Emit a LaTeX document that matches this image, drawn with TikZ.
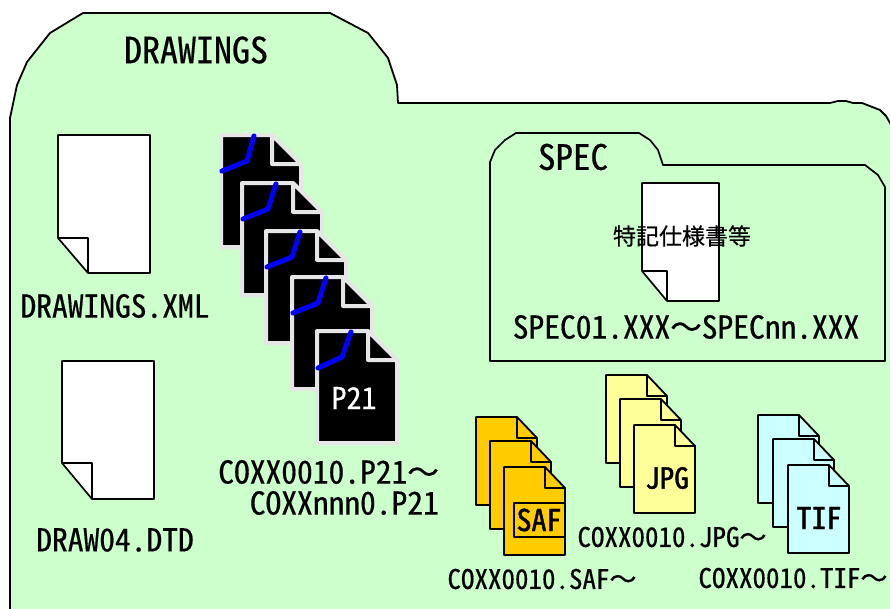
\documentclass[tikz,border=0pt]{standalone}
\usepackage{fontspec}
\setmainfont{Noto Sans CJK JP}[RawFeature=+hwid, FakeBold=0.5]
\newfontfamily\widefont{Noto Sans CJK JP}[FakeBold=0.5]
\newfontfamily\tagfont{Noto Sans CJK JP}[RawFeature=+hwid, FakeBold=1.4]
\newcommand{\wave}{{\widefont ～}}
\usepackage{tikz}
\usetikzlibrary{positioning}

\definecolor{folderfill}{HTML}{CCFFCC}
\definecolor{safcolor}{HTML}{FFCC00}
\definecolor{jpgcolor}{HTML}{FFFF99}
\definecolor{tifcolor}{HTML}{CCFFFF}
\definecolor{edgegray}{HTML}{E6E6E6}

\begin{document}
\begin{tikzpicture}[
    x=1pt, y=-1pt,
    folder/.style={draw=black, fill=folderfill, line width=1.8pt, line join=round},
    subfolder/.style={draw=black, fill=folderfill, line width=1.7pt, line join=round},
    whitedoc/.style={draw=black, fill=white, line width=1.7pt, line join=round},
    p21doc/.style={draw=edgegray, fill=black, line width=4pt, line join=round},
    stroke/.style={draw=blue, line width=5pt, line cap=round, line join=round},
    safdoc/.style={draw=black, fill=safcolor, line width=1.8pt, line join=round},
    jpgdoc/.style={draw=black, fill=jpgcolor, line width=1.8pt, line join=round},
    tifdoc/.style={draw=black, fill=tifcolor, line width=1.8pt, line join=round},
    title/.style={inner sep=0pt, font=\fontsize{36}{36}\selectfont},
    bigname/.style={inner sep=0pt, font=\fontsize{31.5}{36}\selectfont},
    smallname/.style={inner sep=0pt, font=\fontsize{27}{30}\selectfont},
    tag/.style={inner sep=0pt, font=\fontsize{30}{30}\tagfont},
]
  \useasboundingbox (0,0) rectangle (890,608);
  \clip (0,0) rectangle (890,608);

  % Main folder
  \draw[folder] (10,620) -- (10,118) -- (17,85) -- (27,62) -- (50,33) -- (83,13) -- (330,13) -- (368,33) -- (388,58) -- (397,85) -- (398,103)
    -- (830,103) -- (838,101) -- (846,101) -- (853,103) -- (862,103) -- (880,110) -- (886,116) -- (900,140) -- (900,620) -- cycle;
  \node[title] (drawings) at (196,50) {DRAWINGS};

  % White files (left)
  \draw[whitedoc] (58,135) -- (150,135) -- (150,273) -- (88,273) -- (58,238) -- cycle (58,238) -- (88,238) -- (88,273);
  \node[bigname] (xmlname) at (115,306) {DRAWINGS.XML};
  \draw[whitedoc] (62,361) -- (154,361) -- (154,499) -- (92,499) -- (62,463) -- cycle (62,463) -- (92,463) -- (92,499);
  \node[bigname] (dtdname) at (115,540) {DRAW04.DTD};

  % P21 files
  \draw[p21doc] (221,135) -- ++(51,0) -- ++(29,29) -- ++(0,83) -- ++(-80,0) -- cycle (301,164) -- ++(-29,0) -- ++(0,-29);
  \draw[stroke] (222,171) -- (247,161) -- (254,136);
  \draw[p21doc] (242,183) -- ++(51,0) -- ++(29,29) -- ++(0,83) -- ++(-80,0) -- cycle (322,212) -- ++(-29,0) -- ++(0,-29);
  \draw[stroke] (243,219) -- (268,209) -- (276,184);
  \draw[p21doc] (266,231) -- ++(51,0) -- ++(29,29) -- ++(0,83) -- ++(-80,0) -- cycle (346,260) -- ++(-29,0) -- ++(0,-29);
  \draw[stroke] (267,267) -- (292,257) -- (300,232);
  \draw[p21doc] (292,277) -- ++(51,0) -- ++(29,29) -- ++(0,83) -- ++(-80,0) -- cycle (372,306) -- ++(-29,0) -- ++(0,-29);
  \draw[stroke] (293,313) -- (318,303) -- (326,278);
  \draw[p21doc] (317,331) -- ++(51,0) -- ++(29,29) -- ++(0,83) -- ++(-80,0) -- cycle (397,360) -- ++(-29,0) -- ++(0,-29);
  \draw[stroke] (318,368) -- (342,357) -- (351,332);
  \node[bigname, text=white, font=\fontsize{30}{30}\selectfont] (p21tag) at (354,398) {P21};
  \node[bigname, anchor=east] (p21first) at (439,472) {COXX0010.P21\wave};
  \node[bigname, anchor=east] (p21last) at (439,503) {COXXnnn0.P21};

  % SPEC folder
  \draw[subfolder] (490,361) -- (490,162) -- (495,150) -- (505,140) -- (516,133) -- (639,133) -- (650,140) -- (658,150) -- (663,165)
    -- (865,165) -- (878,175) -- (885,187) -- (885,361) -- cycle;
  \node[title, font=\fontsize{35}{35}\selectfont] (spec) at (573,157) {SPEC};
  \draw[whitedoc] (642,183) -- (719,183) -- (719,301) -- (667,301) -- (642,271) -- cycle (642,271) -- (667,271) -- (667,301);
  \node[inner sep=0pt, font=\fontsize{23}{23}\selectfont] (specnote) at (682,236) {特記仕様書等};
  \node[bigname] (specname) at (686,327) {SPEC01.XXX\wave SPECnn.XXX};

  % SAF files
  \draw[safdoc] (476,417) -- ++(41,0) -- ++(20,21) -- ++(0,67) -- ++(-61,0) -- cycle (537,438) -- ++(-20,0) -- ++(0,-21);
  \draw[safdoc] (490,441) -- ++(41,0) -- ++(20,21) -- ++(0,67) -- ++(-61,0) -- cycle (551,462) -- ++(-20,0) -- ++(0,-21);
  \draw[safdoc] (504,467) -- ++(41,0) -- ++(20,21) -- ++(0,67) -- ++(-61,0) -- cycle (565,488) -- ++(-20,0) -- ++(0,-21);
  \draw[safdoc] (514,503) rectangle (565,537);
  \node[tag] (saftag) at (539,520) {SAF};
  \node[smallname] (safname) at (542,579) {COXX0010.SAF\wave};

  % JPG files
  \draw[jpgdoc] (606,375) -- ++(41,0) -- ++(20,21) -- ++(0,67) -- ++(-61,0) -- cycle (667,396) -- ++(-20,0) -- ++(0,-21);
  \draw[jpgdoc] (620,399) -- ++(41,0) -- ++(20,21) -- ++(0,67) -- ++(-61,0) -- cycle (681,420) -- ++(-20,0) -- ++(0,-21);
  \draw[jpgdoc] (634,425) -- ++(41,0) -- ++(20,21) -- ++(0,67) -- ++(-61,0) -- cycle (695,446) -- ++(-20,0) -- ++(0,-21);
  \node[tag, font=\fontsize{29}{29}\tagfont] (jpgtag) at (667,478) {JPG};
  \node[smallname] (jpgname) at (672,537) {COXX0010.JPG\wave};

  % TIF files
  \draw[tifdoc] (758,415) -- ++(41,0) -- ++(20,21) -- ++(0,67) -- ++(-61,0) -- cycle (819,436) -- ++(-20,0) -- ++(0,-21);
  \draw[tifdoc] (773,439) -- ++(41,0) -- ++(20,21) -- ++(0,67) -- ++(-61,0) -- cycle (834,460) -- ++(-20,0) -- ++(0,-21);
  \draw[tifdoc] (788,465) -- ++(41,0) -- ++(20,21) -- ++(0,67) -- ++(-61,0) -- cycle (849,486) -- ++(-20,0) -- ++(0,-21);
  \node[tag] (tiftag) at (819,518) {TIF};
  \node[smallname] (tifname) at (793,578) {COXX0010.TIF\wave};
\end{tikzpicture}
\end{document}
